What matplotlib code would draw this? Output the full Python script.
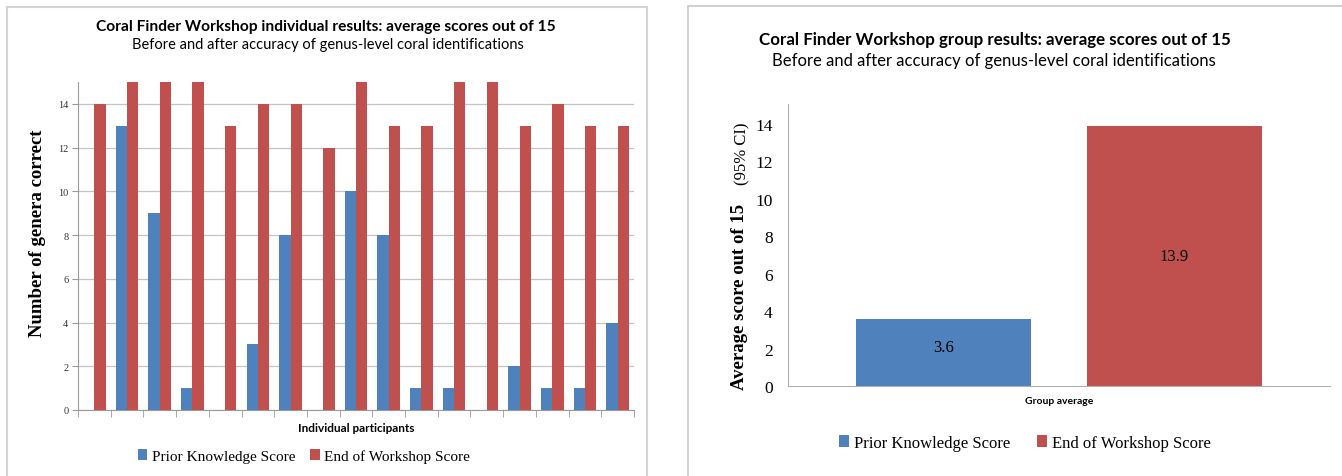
import matplotlib.pyplot as plt
import numpy as np
from matplotlib.patches import Rectangle

# data
participants = list(range(1, 18))
prior_scores = [0, 13, 9, 1, 0, 3, 8, 0, 10, 8, 1, 1, 0, 2, 1, 1, 4]
end_scores = [14, 15, 15, 15, 13, 14, 14, 12, 15, 13, 13, 15, 15, 13, 14, 13, 13]

group_labels = ["Group average"]
group_prior = [3.6]
group_end = [13.9]

series_names = ["Prior Knowledge Score", "End of Workshop Score"]
BLUE = "#4F81BD"
RED = "#C0504D"

SERIF = ["Liberation Serif", "DejaVu Serif"]
SANS = ["Lato", "DejaVu Sans"]

W, H = 1342, 477
fig = plt.figure(figsize=(W / 100, H / 100), dpi=100)
fig.patch.set_facecolor("white")


def fx(px):
    return px / W


def fy(py):
    return 1 - py / H


# panel frames
fig.add_artist(Rectangle((fx(7), fy(490)), fx(640), (490 - 8) / H,
                         transform=fig.transFigure, fill=False,
                         edgecolor="#d4d4d4", lw=1.5))
fig.add_artist(Rectangle((fx(688), fy(490)), fx(700), (490 - 7) / H,
                         transform=fig.transFigure, fill=False,
                         edgecolor="#c8c8c8", lw=1.2))

# ---------------- left chart: individual results ----------------
ax1 = fig.add_axes([fx(78), fy(411), fx(634 - 78), (411 - 83) / H])
x = np.arange(len(participants))
bw = 0.345
ax1.bar(x - bw / 2, prior_scores, bw, color=BLUE, label=series_names[0], zorder=3)
ax1.bar(x + bw / 2, end_scores, bw, color=RED, label=series_names[1], zorder=3)
ax1.set_xlim(-0.5, len(participants) - 0.5)
ax1.set_ylim(0, 15)
ax1.set_yticks(range(0, 15, 2))
ax1.set_xticks([])
ax1.set_xticks(np.arange(-0.5, len(participants), 1), minor=True)
ax1.tick_params(axis="x", which="minor", length=5, color="#999999")
ax1.tick_params(axis="y", length=4, color="#999999", labelsize=7.5,
                labelcolor="#333333", pad=3)
for lab in ax1.get_yticklabels():
    lab.set_family(SERIF)
ax1.grid(axis="y", color="#c4c4c4", lw=0.9, zorder=0)
for s in ["top", "right"]:
    ax1.spines[s].set_visible(False)
for s in ["left", "bottom"]:
    ax1.spines[s].set_color("#999999")
fig.text(fx(38), fy(233), "Number of genera correct", family=SERIF, fontweight="bold",
         fontsize=13.5, rotation=90, ha="center", va="center")
fig.text(fx(356), fy(429), "Individual participants", family=SANS, fontweight="bold",
         fontsize=8.5, ha="center", va="center")
fig.text(fx(326), fy(27), "Coral Finder Workshop individual results: average scores out of 15",
         family=SANS, fontweight="bold", fontsize=11.2, ha="center", va="center")
fig.text(fx(328), fy(45), "Before and after accuracy of genus-level coral identifications",
         family=SANS, fontsize=10.5, ha="center", va="center")
ax1.legend(loc="center", bbox_to_anchor=(fx(304), fy(457)),
           bbox_transform=fig.transFigure, ncol=2, frameon=False,
           handlelength=0.6, handleheight=0.7, handletextpad=0.3,
           columnspacing=1.0, prop={"family": SERIF, "size": 11})

# ---------------- right chart: group average ----------------
ax2 = fig.add_axes([fx(788), fy(387), fx(1330 - 788), (387 - 105) / H])
g = np.arange(len(group_labels))
off, gw = 0.213, 0.323
b1 = ax2.bar(g - off, group_prior, gw, color=BLUE, label=series_names[0])
b2 = ax2.bar(g + off, group_end, gw, color=RED, label=series_names[1])
ax2.bar_label(b1, labels=[f"{v:.1f}" for v in group_prior], label_type="center",
              family=SERIF, fontsize=12, padding=4)
ax2.bar_label(b2, labels=[f"{v:.1f}" for v in group_end], label_type="center",
              family=SERIF, fontsize=12)
ax2.set_xlim(-0.5, 0.5)
ax2.set_ylim(0, 15.07)
ax2.set_yticks(range(0, 15, 2))
ax2.set_xticks(g)
ax2.set_xticklabels(group_labels, family=SANS, fontweight="bold", fontsize=7.5)
ax2.tick_params(axis="x", length=0, pad=7)
ax2.tick_params(axis="y", length=0, labelsize=12.5, pad=11)
for lab in ax2.get_yticklabels():
    lab.set_family(SERIF)
for s in ["top", "right"]:
    ax2.spines[s].set_visible(False)
for s in ["left", "bottom"]:
    ax2.spines[s].set_color("#b0b0b0")
fig.text(fx(739), fy(390), "Average score out of 15", family=SERIF, fontweight="bold",
         fontsize=13.5, rotation=90, ha="center", va="bottom")
fig.text(fx(742), fy(123), "(95% CI)", family=SERIF, fontsize=12,
         rotation=90, ha="center", va="top")
fig.text(fx(995), fy(40), "Coral Finder Workshop group results: average scores out of 15",
         family=SANS, fontweight="bold", fontsize=12.2, ha="center", va="center")
fig.text(fx(994), fy(61), "Before and after accuracy of genus-level coral identifications",
         family=SANS, fontsize=12, ha="center", va="center")
ax2.legend(loc="center", bbox_to_anchor=(fx(1025), fy(444)),
           bbox_transform=fig.transFigure, ncol=2, frameon=False,
           handlelength=0.6, handleheight=0.7, handletextpad=0.3,
           columnspacing=1.6, prop={"family": SERIF, "size": 12})

fig.savefig("out.png", dpi=100)
